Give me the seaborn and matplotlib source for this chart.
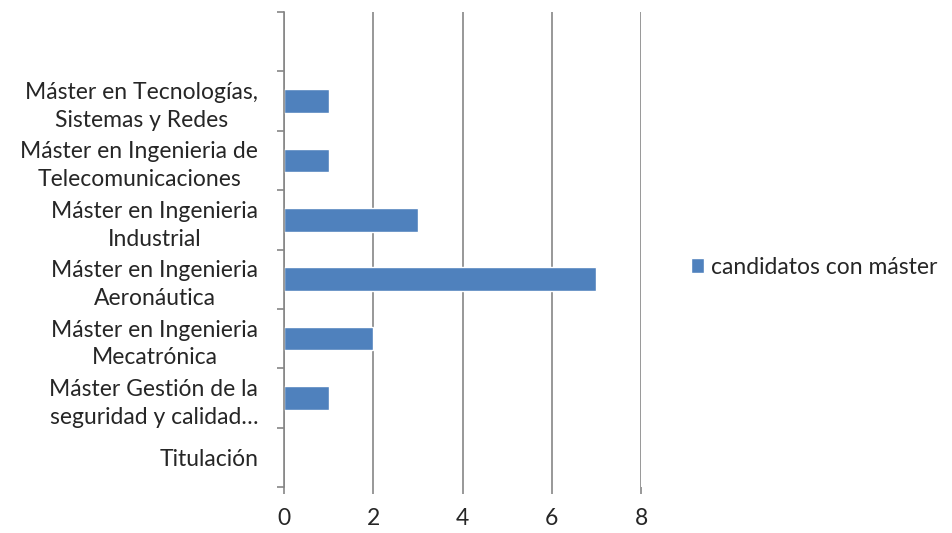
import numpy as np
import pandas as pd
import matplotlib
matplotlib.use("Agg")
import matplotlib.pyplot as plt
import seaborn as sns

categories = [
    " ",
    "Máster en Tecnologías,\nSistemas y Redes",
    "Máster en Ingenieria de\nTelecomunicaciones",
    "Máster en Ingenieria\nIndustrial",
    "Máster en Ingenieria\nAeronáutica",
    "Máster en Ingenieria\nMecatrónica",
    "Máster Gestión de la\nseguridad y calidad…",
    "Titulación",
]
values = [np.nan, 1, 1, 3, 7, 2, 1, np.nan]
series_name = "candidatos con máster"
x_ticks = [0, 2, 4, 6, 8]

df = pd.DataFrame({"cat": categories, "val": values, "serie": series_name})

sns.set_style("white")
plt.rcParams["font.family"] = ["Lato", "DejaVu Sans"]

FS = 16.5

fig = plt.figure(figsize=(9.52, 5.33), dpi=100)
ax = fig.add_axes([284/952, 1 - 487/533, (641-284)/952, (487-12)/533])

sns.barplot(data=df, y="cat", x="val", hue="serie", order=categories,
            orient="h", palette=["#4F81BD"], width=0.4, ax=ax,
            saturation=1, legend=True)

ax.set_xlim(0, 8)
ax.set_ylim(7.5, -0.5)
ax.set_xticks(x_ticks)
ax.set_xticklabels([str(t) for t in x_ticks], fontsize=FS)
ax.set_xlabel("")
ax.set_ylabel("")
ax.grid(axis="x", color="#868686", linewidth=1.2)
ax.set_axisbelow(True)

ax.set_yticks(range(len(categories)))
ax.set_yticklabels(categories, fontsize=FS, ha="right", multialignment="center", linespacing=1.4)
ax.set_yticks(np.arange(-0.5, len(categories), 1.0), minor=True)
ax.tick_params(axis="y", which="major", length=0, pad=18.5, left=True)
ax.tick_params(axis="y", which="minor", length=5, color="#868686", width=1.2,
               direction="out", left=True)
ax.tick_params(axis="x", which="major", length=5, color="#868686", width=1.2,
               direction="out", pad=10, bottom=True)

for s in ["top", "right", "bottom"]:
    ax.spines[s].set_visible(False)
ax.spines["left"].set_color("#868686")
ax.spines["left"].set_linewidth(1.2)

leg = ax.get_legend()
if leg is not None:
    leg.remove()
handles, labels = ax.get_legend_handles_labels()
fig.legend(handles, [series_name], loc="center left",
           bbox_to_anchor=(670/952, 1 - 267/533), frameon=False,
           fontsize=FS, handlelength=0.6, handleheight=0.6, handletextpad=0.3)

fig.savefig("out.png", dpi=100)
